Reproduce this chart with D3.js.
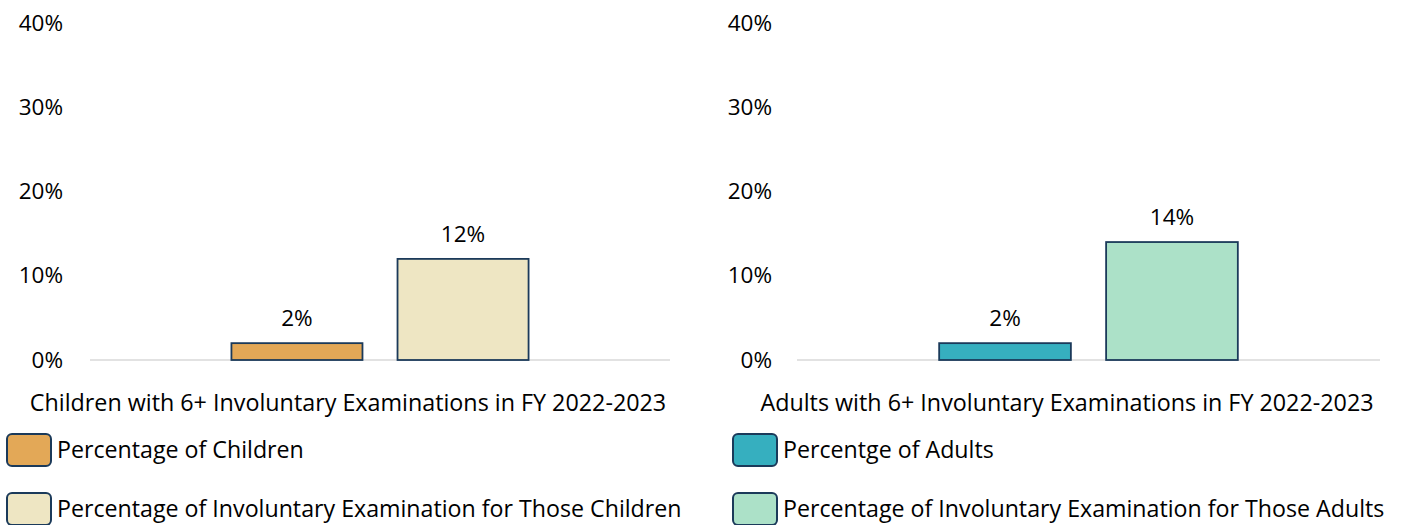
<!DOCTYPE html>
<html>
<head>
<meta charset="utf-8">
<script src="https://cdn.jsdelivr.net/npm/d3@7"></script>
<style>
  body { margin: 0; background: #fff; }
  svg text { font-family: "Open Sans", "Noto Sans", sans-serif; fill: #000; }
  .tick-label { font-size: 22.5px; }
  .bar-label { font-size: 22.5px; }
  .axis-title { font-size: 23.3px; }
  .legend-label { font-size: 23.2px; }
</style>
</head>
<body>
<div id="chart"></div>
<script>
const yTicks = [0, 10, 20, 30, 40]

const childCategory = 'Children with 6+ Involuntary Examinations in FY 2022-2023'
const childSeries = ['Percentage of Children', 'Percentage of Involuntary Examination for Those Children']
const childValues = [2, 12]
const childColors = ['#E3A857', '#EEE6C3']

const adultCategory = 'Adults with 6+ Involuntary Examinations in FY 2022-2023'
const adultSeries = ['Percentge of Adults', 'Percentage of Involuntary Examination for Those Adults']
const adultValues = [2, 14]
const adultColors = ['#36AFBF', '#ACE1C8']

const width = 1404
const height = 525
const strokeColor = '#1B3A5A'

const svg = d3.select('#chart').append('svg')
    .attr('width', width)
    .attr('height', height)

const renderPanel = ({plotLeft, plotRight, labelRight, titleX, legendX, category, series, values, colors}) => {
    const g = svg.append('g')

    const yScale = d3.scaleLinear()
        .domain([0, 40])
        .range([360, 23])

    const xGroup = d3.scaleBand()
        .domain([category])
        .range([plotLeft, plotRight])
        .paddingInner(0)
        .paddingOuter(0.476)

    const xSeries = d3.scaleBand()
        .domain(series)
        .range([0, xGroup.bandwidth()])
        .paddingInner(0.211)
        .paddingOuter(0)

    // y tick labels only, no axis line or ticks
    const yAxis = d3.axisLeft(yScale)
        .tickValues(yTicks)
        .tickFormat(d => d + '%')
        .tickSize(0)
        .tickPadding(0)

    const yAxisG = g.append('g')
        .attr('transform', `translate(${labelRight}, 0)`)
        .call(yAxis)
    yAxisG.select('.domain').remove()
    yAxisG.attr('font-family', null).attr('font-size', null)
    yAxisG.selectAll('text')
        .attr('class', 'tick-label')
        .attr('fill', '#000')

    // baseline
    g.append('line')
        .attr('x1', plotLeft)
        .attr('x2', plotRight)
        .attr('y1', yScale(0))
        .attr('y2', yScale(0))
        .attr('stroke', '#D9D9D9')
        .attr('stroke-width', 1.5)

    const bars = series.map((s, i) => ({name: s, value: values[i], color: colors[i]}))

    g.selectAll('.bar').data(bars).enter().append('rect')
        .attr('class', 'bar')
        .attr('x', d => xGroup(category) + xSeries(d.name))
        .attr('y', d => yScale(d.value))
        .attr('width', xSeries.bandwidth())
        .attr('height', d => yScale(0) - yScale(d.value))
        .attr('fill', d => d.color)
        .attr('stroke', strokeColor)
        .attr('stroke-width', 1.8)

    g.selectAll('.bar-label').data(bars).enter().append('text')
        .attr('class', 'bar-label')
        .attr('x', d => xGroup(category) + xSeries(d.name) + xSeries.bandwidth() / 2)
        .attr('y', d => yScale(d.value) - 17)
        .attr('text-anchor', 'middle')
        .text(d => d.value + '%')

    g.append('text')
        .attr('class', 'axis-title')
        .attr('x', titleX)
        .attr('y', 411)
        .attr('text-anchor', 'middle')
        .text(category)

    const legend = g.selectAll('.legend').data(bars).enter().append('g')
        .attr('transform', (d, i) => `translate(${legendX}, ${434 + i * 59})`)

    legend.append('rect')
        .attr('width', 44)
        .attr('height', 32)
        .attr('rx', 5)
        .attr('fill', d => d.color)
        .attr('stroke', strokeColor)
        .attr('stroke-width', 2)

    legend.append('text')
        .attr('class', 'legend-label')
        .attr('x', 50)
        .attr('y', 16)
        .attr('dy', '0.35em')
        .text(d => d.name)
}

renderPanel({
    plotLeft: 90, plotRight: 670, labelRight: 63, titleX: 348,
    legendX: 7, category: childCategory, series: childSeries, values: childValues, colors: childColors
})

renderPanel({
    plotLeft: 797, plotRight: 1380, labelRight: 772, titleX: 1067,
    legendX: 733, category: adultCategory, series: adultSeries, values: adultValues, colors: adultColors
})
</script>
</body>
</html>
